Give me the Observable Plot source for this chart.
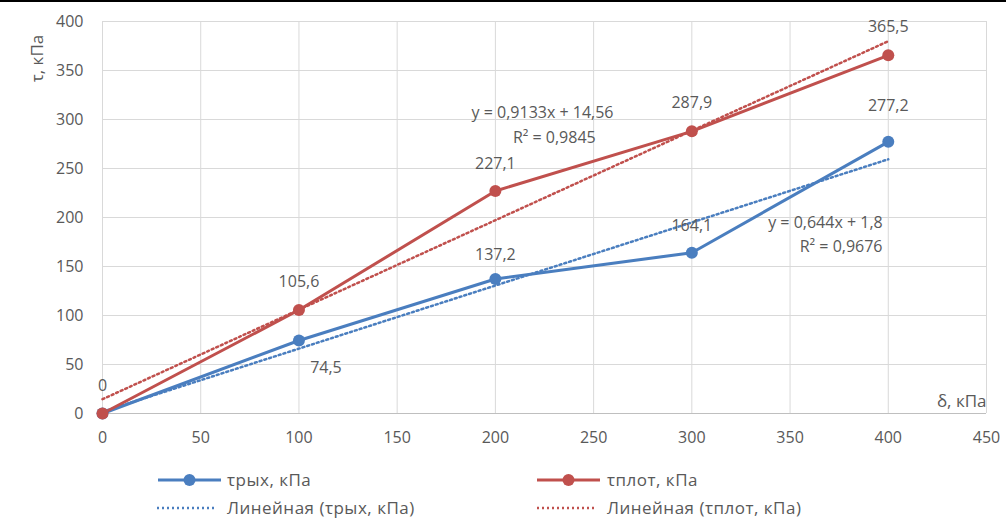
<!DOCTYPE html>
<html><head><meta charset="utf-8">
<script src="https://cdn.jsdelivr.net/npm/d3@7"></script>
<script src="https://cdn.jsdelivr.net/npm/@observablehq/plot@0.6"></script>
<style>
body{margin:0;background:#fff;font-family:"Open Sans",sans-serif;}
#wrap{position:relative;width:1006px;height:521px;overflow:hidden;}
#topbar{position:absolute;left:0;top:0;width:1006px;height:2px;background:#000;}
.leg{position:absolute;font-size:17px;letter-spacing:0.5px;color:#595959;white-space:nowrap;}
</style></head>
<body><div id="wrap"><div id="chart"></div><div id="topbar"></div></div>
<script>
const xValues = [0, 100, 200, 300, 400];
const tRyh = [0, 74.5, 137.2, 164.1, 277.2];
const tPlot = [0, 105.6, 227.1, 287.9, 365.5];
const seriesNames = ["τрых, кПа", "τплот, кПа"];
const trendNames = ["Линейная (τрых, кПа)", "Линейная (τплот, кПа)"];
const eqTexts = ["y = 0,644x + 1,8", "R² = 0,9676", "y = 0,9133x + 14,56", "R² = 0,9845"];
const xTicks = [0, 50, 100, 150, 200, 250, 300, 350, 400, 450];
const yTicks = [0, 50, 100, 150, 200, 250, 300, 350, 400];

const BLUE = "#4A7EBF", RED = "#C0504D", GRAY = "#595959";
const FONT = '"Open Sans",sans-serif';
const FS = 16;
const fmt = v => String(v).replace(".", ",");
const blue = xValues.map((x, i) => ({x, y: tRyh[i], s: seriesNames[0]}));
const red = xValues.map((x, i) => ({x, y: tPlot[i], s: seriesNames[1]}));

// label offsets (dx, dy) per point index
const blueOff = [[0, 0], [27, 27], [0, -24], [0, -27], [0, -36]];
const redOff = [[0, -28], [0, -28], [0, -27], [0, -28], [0, -28]];

const labelMarks = [];
blue.forEach((d, i) => { if (i > 0) labelMarks.push(Plot.text([d], {x: "x", y: "y", text: d => fmt(d.y), dx: blueOff[i][0], dy: blueOff[i][1], fill: GRAY, fontSize: FS})); });
red.forEach((d, i) => labelMarks.push(Plot.text([d], {x: "x", y: "y", text: d => fmt(d.y), dx: redOff[i][0], dy: redOff[i][1], fill: GRAY, fontSize: FS})));

const eqPos = [[368, 195], [376, 170], [224, 307], [230, 281]];

const chart = Plot.plot({
  width: 1006, height: 460,
  marginLeft: 102, marginRight: 20, marginTop: 21, marginBottom: 47,
  style: {fontFamily: FONT, fontSize: FS + "px", color: GRAY, background: "#fff"},
  x: {domain: [0, 450], ticks: xTicks, tickSize: 0, tickPadding: 18, label: null, tickFormat: d => d},
  y: {domain: [0, 400], ticks: yTicks, tickSize: 0, tickPadding: 19, label: null, tickFormat: d => d},
  marks: [
    Plot.gridX(xTicks, {stroke: "#d9d9d9", strokeOpacity: 1, strokeWidth: 1}),
    Plot.gridY(yTicks, {stroke: "#d9d9d9", strokeOpacity: 1, strokeWidth: 1}),
    Plot.ruleY([0], {stroke: "#bfbfbf", strokeWidth: 1.2}),
    Plot.axisX({ticks: xTicks, tickSize: 0, tickPadding: 18, fill: GRAY, fontSize: FS, label: null}),
    Plot.axisY({ticks: yTicks, tickSize: 0, tickPadding: 19, fill: GRAY, fontSize: FS, label: null}),
    Plot.linearRegressionY(blue, {x: "x", y: "y", stroke: BLUE, strokeWidth: 2.5, strokeDasharray: "2,3", ci: 0}),
    Plot.linearRegressionY(red, {x: "x", y: "y", stroke: RED, strokeWidth: 2.5, strokeDasharray: "2,3", ci: 0}),
    Plot.line(blue, {x: "x", y: "y", stroke: BLUE, strokeWidth: 3}),
    Plot.line(red, {x: "x", y: "y", stroke: RED, strokeWidth: 3}),
    Plot.dot(blue, {x: "x", y: "y", fill: BLUE, r: 6}),
    Plot.dot(red, {x: "x", y: "y", fill: RED, r: 6}),
    ...labelMarks,
    Plot.text(eqTexts.map((t, i) => ({t, x: eqPos[i][0], y: eqPos[i][1]})), {x: "x", y: "y", text: "t", fill: GRAY, fontSize: FS}),
    Plot.text(["τ, кПа"], {frameAnchor: "top-left", textAnchor: "middle", lineAnchor: "middle", dx: -65, dy: 37, rotate: -90, fill: GRAY, fontSize: FS + 1}),
    Plot.text(["δ, кПа"], {frameAnchor: "bottom-right", textAnchor: "end", dy: -7, fill: GRAY, fontSize: FS + 1})
  ]
});
document.getElementById("chart").appendChild(chart);

// legend
const legItems = [
  {name: seriesNames[0], color: BLUE, dotted: false, sx: 158, tx: 227, y: 480},
  {name: seriesNames[1], color: RED, dotted: false, sx: 537, tx: 607, y: 480},
  {name: trendNames[0], color: BLUE, dotted: true, sx: 157, tx: 227, y: 508},
  {name: trendNames[1], color: RED, dotted: true, sx: 537, tx: 607, y: 508}
];
const wrap = document.getElementById("wrap");
const ns = "http://www.w3.org/2000/svg";
legItems.forEach(it => {
  const svg = document.createElementNS(ns, "svg");
  const w = it.dotted ? 60 : 63;
  svg.setAttribute("width", w); svg.setAttribute("height", 14);
  svg.style.position = "absolute"; svg.style.left = it.sx + "px"; svg.style.top = (it.y - 7) + "px";
  const ln = document.createElementNS(ns, "line");
  ln.setAttribute("x1", 0); ln.setAttribute("x2", w); ln.setAttribute("y1", 7); ln.setAttribute("y2", 7);
  ln.setAttribute("stroke", it.color); ln.setAttribute("stroke-width", it.dotted ? 2.5 : 3);
  if (it.dotted) ln.setAttribute("stroke-dasharray", "2,3");
  svg.appendChild(ln);
  if (!it.dotted) {
    const c = document.createElementNS(ns, "circle");
    c.setAttribute("cx", w / 2); c.setAttribute("cy", 7); c.setAttribute("r", 6); c.setAttribute("fill", it.color);
    svg.appendChild(c);
  }
  wrap.appendChild(svg);
  const t = document.createElement("div");
  t.className = "leg"; t.textContent = it.name;
  t.style.left = it.tx + "px"; t.style.top = (it.y - 12) + "px"; t.style.lineHeight = "24px";
  wrap.appendChild(t);
});
</script></body></html>
